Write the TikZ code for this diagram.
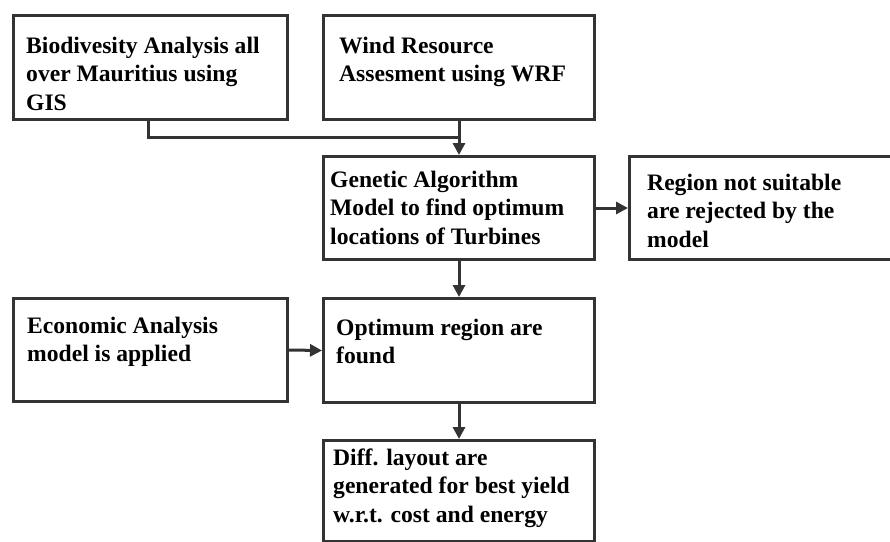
\documentclass[tikz,border=0pt]{standalone}
\usepackage{fontspec}
\setmainfont{Liberation Serif}
\usetikzlibrary{arrows.meta,calc}
\definecolor{ink}{HTML}{333333}
\newcommand{\boxtext}[1]{\begin{tabular}[t]{@{}l@{}}#1\end{tabular}}
\tikzset{
  x=1pt,y=-1pt,
  boxnode/.style={draw=ink,line width=3pt,rectangle,inner sep=0pt,anchor=north west},
  label text/.style={anchor=base west,inner sep=0pt,text=black,
    font=\fontsize{23.6}{28.5}\selectfont\bfseries},
  link/.style={draw=ink,line width=3pt},
  arrowlink/.style={link,-{Triangle[length=12pt,width=12pt]}},
}
\begin{document}
\begin{tikzpicture}
\useasboundingbox (0,0) rectangle (890,541);
\clip (0,0) rectangle (890,541);
% boxes
\node[boxnode,minimum width=274pt,minimum height=104pt] (b1) at (12,14) {};
\node[boxnode,minimum width=271pt,minimum height=104pt] (b2) at (322,14) {};
\node[boxnode,minimum width=271pt,minimum height=103pt] (b3) at (322,155) {};
\node[boxnode,minimum width=270pt,minimum height=103pt] (b4) at (628,155) {};
\node[boxnode,minimum width=274pt,minimum height=103pt] (b5) at (12,297) {};
\node[boxnode,minimum width=271pt,minimum height=104pt] (b6) at (322,297) {};
\node[boxnode,minimum width=271pt,minimum height=101pt] (b7) at (322,439) {};
% texts, placed by the baseline of their first line
\node[label text] (t1) at ($(b1.north west)+(14,39)$) {\boxtext{Biodivesity Analysis all\\over Mauritius using\\GIS}};
\node[label text] (t2) at ($(b2.north west)+(17,39)$) {\boxtext{Wind Resource\\Assesment using WRF}};
\node[label text] (t3) at ($(b3.north west)+(8,32)$) {\boxtext{Genetic Algorithm\\Model to find optimum\\locations of Turbines}};
\node[label text] (t4) at ($(b4.north west)+(19,35)$) {\boxtext{Region not suitable\\are rejected by the\\model}};
\node[label text] (t5) at ($(b5.north west)+(15,36)$) {\boxtext{Economic Analysis\\model is applied}};
\node[label text] (t6) at ($(b6.north west)+(14,38)$) {\boxtext{Optimum region are\\found}};
\node[label text] (t7) at ($(b7.north west)+(11,26)$) {\boxtext{Diff. layout are\\generated for best yield\\w.r.t. cost and energy}};
% connectors
\coordinate (join) at ($(b2.south)!0.49!(b3.north)$);
\draw[link] ($(b1.south west)+(136,0)$) |- (join);
\draw[arrowlink] (b2.south) -- (b3.north);
\draw[arrowlink] (b3.east) -- (b4.west);
\draw[arrowlink] (b3.south) -- (b6.north);
\draw[arrowlink] (b5.east) -- (b6.west);
\draw[arrowlink] (b6.south) -- (b7.north);
\end{tikzpicture}
\end{document}
